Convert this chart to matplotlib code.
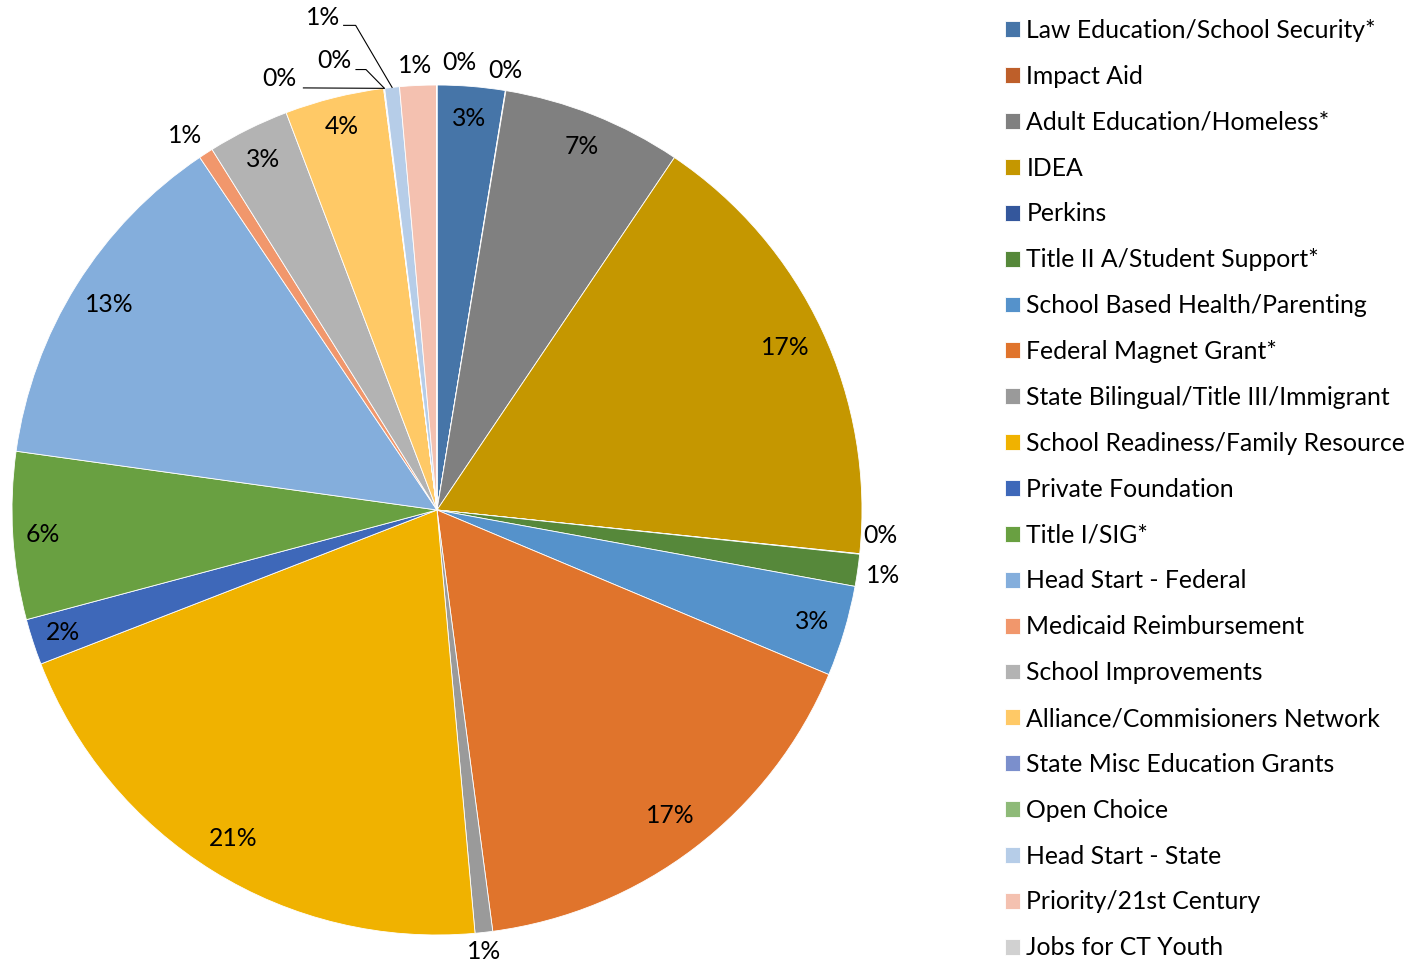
import matplotlib.pyplot as plt
import numpy as np

plt.rcParams['font.family'] = ['Lato', 'DejaVu Sans']

categories = [
    "Law Education/School Security*", "Impact Aid", "Adult Education/Homeless*",
    "IDEA", "Perkins", "Title II A/Student Support*", "School Based Health/Parenting",
    "Federal Magnet Grant*", "State Bilingual/Title III/Immigrant",
    "School Readiness/Family Resource", "Private Foundation", "Title I/SIG*",
    "Head Start - Federal", "Medicaid Reimbursement", "School Improvements",
    "Alliance/Commisioners Network", "State Misc Education Grants", "Open Choice",
    "Head Start - State", "Priority/21st Century", "Jobs for CT Youth",
]
# shares in percent
shares = [2.58, 0.02, 6.86, 17.25, 0.02, 1.22, 3.46, 16.62, 0.67, 20.58, 1.75,
          6.38, 13.4, 0.55, 3.11, 3.78, 0.02, 0.02, 0.56, 1.4, 0.01]

colors = ["#4675A8", "#BE5F2A", "#808080", "#C59700", "#34579C", "#56883A",
          "#5592CB", "#E0742C", "#9A9A9A", "#F0B200", "#3E68B9", "#69A041",
          "#84AEDC", "#F1976C", "#B3B3B3", "#FFC966", "#7B8FCC", "#8EBA78",
          "#B6CDE8", "#F4C1B0", "#D1D1D1"]

PX = 425.0  # pie radius in pixels
FS = 17.8

fig = plt.figure(figsize=(14.12, 9.65), dpi=100)
ax = fig.add_axes([437 / 1412 - 0.301, 1 - 510 / 965 - 0.4404, 0.602, 0.8808])
wedges, _ = ax.pie(shares, colors=colors, startangle=90, counterclock=False,
                   radius=1.0, wedgeprops=dict(edgecolor='white', linewidth=0.6))
ax.set_xlim(-1, 1)
ax.set_ylim(-1, 1)
ax.set_aspect('equal')
ax.axis('off')

total = sum(shares)
# label radius and angle nudge (deg, clockwise) per slice
inside_r = {0: 0.925, 2: 0.92, 3: 0.905, 6: 0.92, 7: 0.906, 9: 0.91, 10: 0.927,
            11: 0.93, 12: 0.91, 14: 0.92, 15: 0.93}
outside = {1: (1.047, -0.5), 4: (1.045, -2.6), 5: (1.06, 0.2), 8: (1.045, 0.3),
           13: (1.063, -1.0), 16: (1.08, -12.9), 17: (1.085, -5.8),
           18: (1.19, -7.0), 19: (1.047, -0.3), 20: (1.054, 2.9)}
leaders = {16: (24, 9, 2), 17: (22, 9, 10), 18: (21, 8, 12)}

for i, w in enumerate(wedges):
    mid = np.deg2rad((w.theta1 + w.theta2) / 2)
    txt = f"{round(shares[i] / total * 100):.0f}%"
    if i in inside_r:
        r, shift = inside_r[i], 0.0
    else:
        r, shift = outside[i]
    a = mid - np.deg2rad(shift)
    lx, ly = r * np.cos(a), r * np.sin(a)
    ax.text(lx, ly, txt, ha='center', va='center', fontsize=FS, color='black')
    if i in leaders:
        dx, dy, hl = leaders[i]
        sx, sy = lx + dx / PX, ly - dy / PX
        ex, ey = np.cos(mid), np.sin(mid)
        ax.plot([sx, sx + hl / PX, ex], [sy, sy, ey], color='black', lw=0.8,
                clip_on=False)

leg = fig.legend(wedges, categories, loc='upper left',
                 bbox_to_anchor=(1005 / 1412, 1 - 19 / 965), frameon=False,
                 fontsize=FS, handlelength=0.61, handleheight=0.61,
                 handletextpad=0.25, labelspacing=0.925, borderpad=0,
                 borderaxespad=0)

fig.savefig('out.png', dpi=100)
